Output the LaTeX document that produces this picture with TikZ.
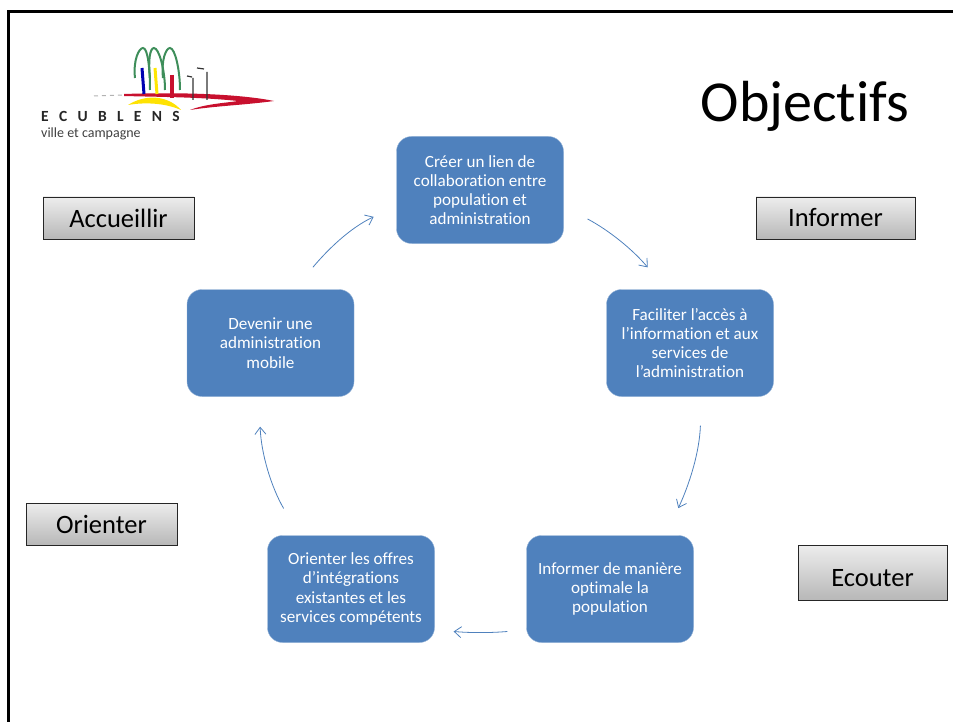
\documentclass[tikz,border=0pt]{standalone}
\usepackage{fontspec}
\usetikzlibrary{arrows.meta}
\setmainfont[Ligatures=NoCommon]{Carlito}
\definecolor{boxblue}{HTML}{4F81BD}
\definecolor{logored}{HTML}{C8102E}
\definecolor{logogreen}{HTML}{3E8E5A}
\begin{document}
\begin{tikzpicture}[x=1pt, y=-1pt, line cap=butt,
		goalbox/.style = {shape=rectangle, rounded corners=15pt, draw=boxblue!60, fill=boxblue, align=center,
	text=white, minimum width=167pt, minimum height=107pt, inner sep=2pt, font=\fontsize{17.1}{19.2}\selectfont},
		tagbox/.style = {shape=rectangle, draw=black!85, top color=black!7, bottom color=black!28, inner sep=0pt,
	minimum height=42pt, font=\fontsize{26.5}{28}\selectfont},
		flow/.style = {draw=boxblue, line width=0.8pt, -{Straight Barb[length=7pt,width=11pt]}}]
			\useasboundingbox (0,0) rectangle (953,722);
			\draw[line width=3pt] (8.5,722) -- (8.5,12) -- (953,12);

			\draw[gray!60, line width=1pt, dash pattern=on 4pt off 4pt] (94,96) -- (124,95);
			\fill[logored] (124,94) .. controls (180,92) and (240,94) .. (274,101) .. controls (245,105) and (215,106) .. (190,110) .. controls (205,104) and (225,103) .. (238,101) .. controls (200,97) and (160,97) .. (124,96) -- cycle;
			\fill[yellow!85!orange] (128,105) .. controls (145,94) and (168,95) .. (181,110) .. controls (165,103) and (145,102) .. (128,105) -- cycle;
			\foreach \archl/\archp/\archr in {135/143/150,150/154/165,163/170/180}
				\draw[logogreen, line width=2pt] (\archl,78) .. controls (\archl-2,60) and (\archp-4,48) .. (\archp,48) .. controls (\archp+5,48) and (\archr,70) .. (\archr,90);
			\draw[blue!70!black, line width=3pt] (142,68) -- (144,94);
			\draw[yellow!90!orange, line width=3pt] (155,68) -- (157,94);
			\draw[logored, line width=3.5pt] (172,75) -- (172,98);
			\draw[black!80, line width=1.2pt] (193,78) -- (193,100) (207,72) -- (207,100) (187,76) -- (192,77) (197,68) -- (204,69);

			\node[font=\fontsize{15.5}{16}\selectfont\bfseries, text=black!85, anchor=west, inner sep=0pt] (townname) at (41,116) {E\,\,\,\,C\,\,\,\,U\,\,\,\,B\,\,\,\,L\,\,\,\,E\,\,\,\,N\,\,\,\,S};
			\node[font=\fontsize{14}{16}\selectfont, text=black!75, anchor=west, inner sep=0pt] (townline) at (41,134) {ville et campagne};
			\node[font=\fontsize{58}{60}\selectfont, inner sep=0pt] (title) at (805,106) {Objectifs};

			\node[goalbox] (lien) at (480,190) {Créer un lien de \\ collaboration entre \\ population et \\ administration};
			\node[goalbox] (acces) at (690,343) {Faciliter l’accès à \\ l’information et aux \\ services de \\ l’administration};
			\node[goalbox] (population) at (610,589) {Informer de manière \\ optimale la \\ population};
			\node[goalbox] (offres) at (351,589) {Orienter les offres \\ d’intégrations \\ existantes et les \\ services compétents};
			\node[goalbox] (mobile) at (270.5,343) {Devenir une \\ administration \\ mobile};

			\node[tagbox, minimum width=151pt] (accueillir) at (118.5,218) {Accueillir};
			\node[tagbox, minimum width=159pt] (informer) at (835.5,218) {Informer};
			\node[tagbox, minimum width=151pt] (orienter) at (101.5,524) {Orienter};
			\node[tagbox, minimum width=149pt, minimum height=55pt] (ecouter) at (872.5,572.5) {\raisebox{-14pt}[0pt][0pt]{Ecouter}};

			\draw[flow, shorten <=27pt, shorten >=28.6pt] (lien.-11) to[out=-28, in=130] (acces.114);
			\draw[flow, shorten <=29pt, shorten >=30pt] (acces.-78.5) to[out=-92, in=65] (population.44.3);
			\draw[flow, shorten <=19pt, shorten >=19pt] (population.206) to[out=185, in=-5] (offres.-26);
			\draw[flow, shorten <=31pt, shorten >=30pt] (offres.134.2) to[out=120, in=-88] (mobile.258.4);
			\draw[flow, shorten <=28.7pt, shorten >=25pt] (mobile.66) to[out=50, in=-155] (lien.191.4);
		\end{tikzpicture}
\end{document}
